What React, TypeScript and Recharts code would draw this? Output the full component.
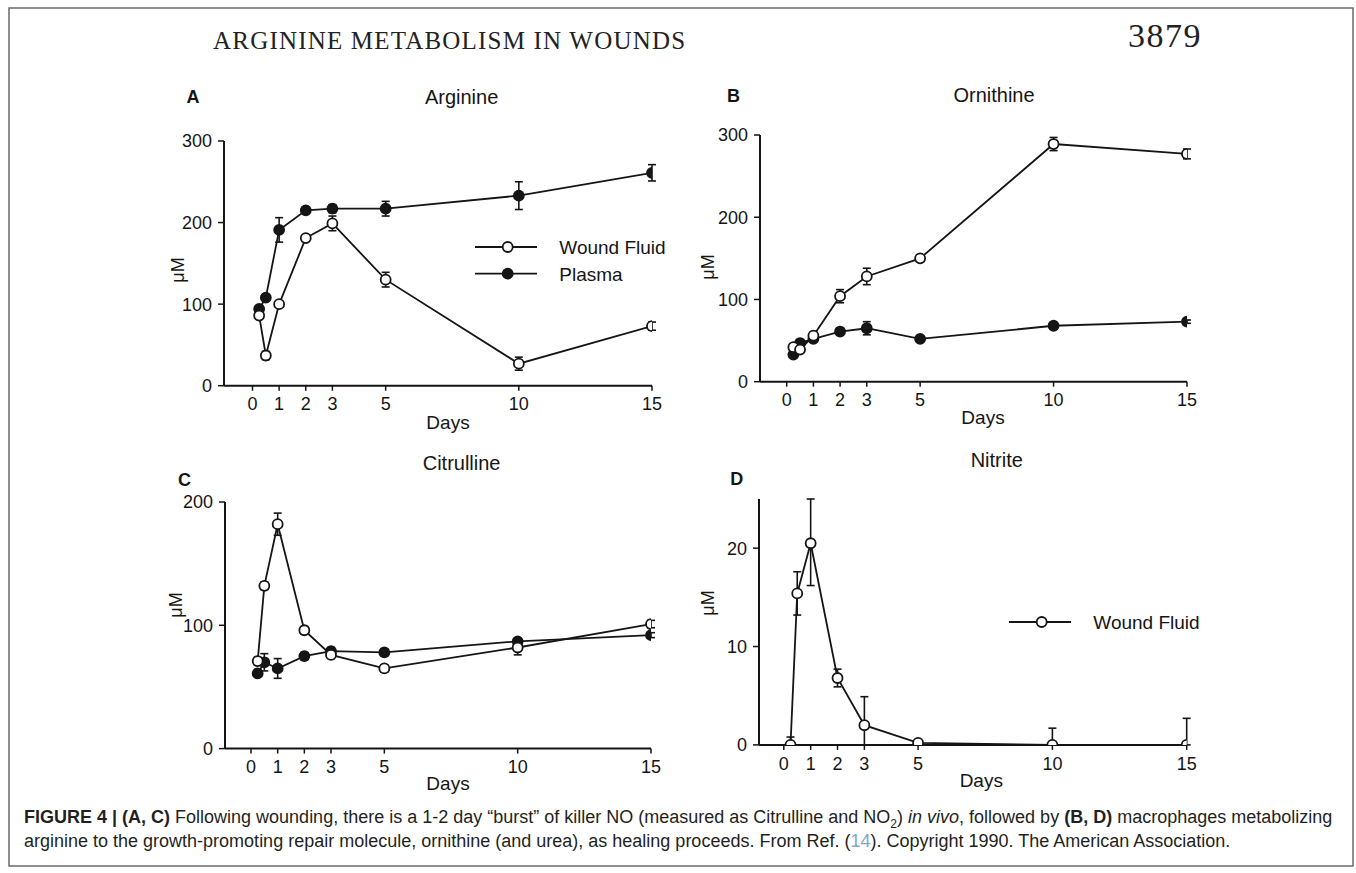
import React from "react";
import { LineChart, Line, XAxis, YAxis, ErrorBar, Legend } from "recharts";

// sampling days (shared by all four panels)
const days = [0.25, 0.5, 1, 2, 3, 5, 10, 15];
const dayTicks = [0, 1, 2, 3, 5, 10, 15];

// A: Arginine (µM)
const arginineWound = [86, 37, 100, 181, 199, 130, 27, 73];
const arginineWoundErr = [3, 5, 3, 4, 9, 9, 8, 5];
const argininePlasma = [94, 108, 191, 215, 217, 217, 233, 261];
const argininePlasmaErr = [3, 3, 15, 4, 5, 9, 17, 10];

// B: Ornithine (µM)
const ornithineWound = [42, 39, 56, 104, 128, 150, 289, 277];
const ornithineWoundErr = [3, 3, 3, 8, 10, 3, 8, 6];
const ornithinePlasma = [33, 47, 52, 61, 65, 52, 68, 73];
const ornithinePlasmaErr = [2, 2, 2, 3, 8, 2, 2, 2];

// C: Citrulline (µM)
const citrullineWound = [71, 132, 182, 96, 76, 65, 82, 101];
const citrullineWoundErr = [3, 3, 9, 3, 3, 3, 6, 3];
const citrullinePlasma = [61, 70, 65, 75, 79, 78, 87, 92];
const citrullinePlasmaErr = [2, 7, 8, 3, 3, 3, 2, 2];

// D: Nitrite (µM), errors as [minus, plus]
const nitriteWound = [0, 15.4, 20.5, 6.8, 2.0, 0.2, 0, 0];
const nitriteWoundErr = [[0, 0.8], [2.2, 2.2], [4.3, 4.5], [0.9, 0.9], [2.0, 2.9], [0.2, 0], [0, 1.7], [0, 2.7]];

const SANS = "'Liberation Sans', Arial, Helvetica, sans-serif";
const SERIF = "'Liberation Serif', 'Times New Roman', serif";
const INK = "#151515";

const YW = 60;
const MT = 12;
const MR = 24;
const XH = 40;

type Geo = { axX: number; x0: number; x15: number; top: number; bottom: number; yMax: number; yTicks: number[] };
type SeriesDef = { key: string; errKey: string; fill: string };
type LegendDef = { x: number; y: number; items: { label: string; fill: string }[] };

function makeRows(wound: number[], woundErr: any[], plasma?: number[], plasmaErr?: any[]) {
  return days.map((d, i) => ({
    day: d,
    wound: wound[i],
    woundErr: woundErr[i],
    plasma: plasma ? plasma[i] : undefined,
    plasmaErr: plasmaErr ? plasmaErr[i] : undefined,
  }));
}

const dot = (fill: string) => (p: any) => (
  <circle key={`${fill}-${p.index}`} cx={p.cx} cy={p.cy} r={5} fill={fill} stroke={INK} strokeWidth={1.8} />
);

function Panel({ geo, rows, series, legend }: { geo: Geo; rows: any[]; series: SeriesDef[]; legend?: LegendDef }) {
  const k = (geo.x15 - geo.x0) / 15;
  const xMin = (geo.axX - geo.x0) / k;
  const left = geo.axX - YW;
  const top = geo.top - MT;
  const width = YW + (geo.x15 - geo.axX) + MR;
  const height = MT + (geo.bottom - geo.top) + XH;
  const tickStyle = { fontFamily: SANS, fontSize: 18, fill: INK };

  return (
    <div style={{ position: "absolute", left, top }}>
      <LineChart width={width} height={height} data={rows} margin={{ top: MT, right: MR, left: 0, bottom: 0 }}>
        <XAxis
          type="number"
          dataKey="day"
          domain={[xMin, 15]}
          ticks={dayTicks}
          allowDataOverflow
          height={XH}
          interval={0}
          tick={tickStyle}
          tickSize={5}
          tickMargin={7}
          axisLine={{ stroke: INK, strokeWidth: 2 }}
          tickLine={{ stroke: INK, strokeWidth: 1.5 }}
        />
        <YAxis
          type="number"
          domain={[0, geo.yMax]}
          ticks={geo.yTicks}
          allowDataOverflow
          width={YW}
          interval={0}
          tick={tickStyle}
          tickSize={6}
          tickMargin={6}
          axisLine={{ stroke: INK, strokeWidth: 2 }}
          tickLine={{ stroke: INK, strokeWidth: 1.5 }}
        />
        {series.map((s) => (
          <Line
            key={s.key}
            type="linear"
            dataKey={s.key}
            stroke={INK}
            strokeWidth={1.8}
            dot={dot(s.fill)}
            activeDot={false}
            isAnimationActive={false}
          >
            <ErrorBar dataKey={s.errKey} direction="y" width={4} stroke={INK} strokeWidth={1.6} isAnimationActive={false} />
          </Line>
        ))}
        {legend && (
          <Legend
            layout="horizontal"
            verticalAlign="middle"
            align="center"
            wrapperStyle={{ left: legend.x - left, top: legend.y - 10 - top, width: 220, height: 30 * legend.items.length }}
            content={() => (
              <svg width={220} height={10 + 26.7 * legend.items.length}>
                {legend.items.map((it, i) => {
                  const cy = 10 + i * 26.7;
                  return (
                    <g key={it.label}>
                      <line x1={0} x2={62} y1={cy} y2={cy} stroke={INK} strokeWidth={1.8} />
                      <circle cx={32.7} cy={cy} r={5} fill={it.fill} stroke={INK} strokeWidth={1.8} />
                      <text x={84.3} y={cy + 6.8} fontFamily={SANS} fontSize={19} fill={INK}>
                        {it.label}
                      </text>
                    </g>
                  );
                })}
              </svg>
            )}
          />
        )}
      </LineChart>
    </div>
  );
}

const twoSeries: SeriesDef[] = [
  { key: "plasma", errKey: "plasmaErr", fill: INK },
  { key: "wound", errKey: "woundErr", fill: "#fff" },
];

function Label({ x, y, size = 19, weight = 400, children }: any) {
  return (
    <text x={x} y={y} textAnchor="middle" fontFamily={SANS} fontSize={size} fontWeight={weight} fill={INK}>
      {children}
    </text>
  );
}

function YLabel({ x, y }: { x: number; y: number }) {
  return (
    <text
      x={x}
      y={y}
      transform={`rotate(-90 ${x} ${y})`}
      textAnchor="middle"
      dominantBaseline="central"
      fontFamily={SANS}
      fontSize={18}
      fill={INK}
    >
      μM
    </text>
  );
}

export default function App() {
  return (
    <div style={{ position: "absolute", left: 0, top: 0, width: 1356, height: 873, background: "#fff", overflow: "hidden" }}>
      <svg width={1356} height={873} style={{ position: "absolute", left: 0, top: 0 }}>
        <rect x={9} y={8} width={1344} height={858} fill="none" stroke="#6a6a6a" strokeWidth={1.5} />
        <text x={213} y={49} fontFamily={SERIF} fontSize={25} letterSpacing={1.2} fill="#222">
          ARGININE METABOLISM IN WOUNDS
        </text>
        <text x={1128} y={47} fontFamily={SERIF} fontSize={34} letterSpacing={1.5} fill="#222">
          3879
        </text>

        <Label x={193} y={103.3} size={18} weight={700}>A</Label>
        <Label x={461.6} y={104} size={20}>Arginine</Label>
        <Label x={733.4} y={101.7} size={18} weight={700}>B</Label>
        <Label x={994} y={102} size={20}>Ornithine</Label>
        <Label x={184.4} y={486} size={18} weight={700}>C</Label>
        <Label x={461.6} y={470} size={20}>Citrulline</Label>
        <Label x={736.8} y={485} size={18} weight={700}>D</Label>
        <Label x={996.8} y={466.7} size={20}>Nitrite</Label>

        <YLabel x={177.5} y={270} />
        <YLabel x={707.5} y={267} />
        <YLabel x={175.8} y={605} />
        <YLabel x={707.5} y={603} />

        <Label x={448} y={428.5}>Days</Label>
        <Label x={983} y={424}>Days</Label>
        <Label x={448} y={790}>Days</Label>
        <Label x={981.3} y={787}>Days</Label>
      </svg>

      <Panel
        geo={{ axX: 224, x0: 252.5, x15: 652, top: 141, bottom: 385.7, yMax: 300, yTicks: [0, 100, 200, 300] }}
        rows={makeRows(arginineWound, arginineWoundErr, argininePlasma, argininePlasmaErr)}
        series={twoSeries}
        legend={{ x: 475.4, y: 247.3, items: [{ label: "Wound Fluid", fill: "#fff" }, { label: "Plasma", fill: INK }] }}
      />
      <Panel
        geo={{ axX: 759.9, x0: 786.6, x15: 1186.9, top: 135, bottom: 381.7, yMax: 300, yTicks: [0, 100, 200, 300] }}
        rows={makeRows(ornithineWound, ornithineWoundErr, ornithinePlasma, ornithinePlasmaErr)}
        series={twoSeries}
      />
      <Panel
        geo={{ axX: 225, x0: 251, x15: 651, top: 501.7, bottom: 748.3, yMax: 200, yTicks: [0, 100, 200] }}
        rows={makeRows(citrullineWound, citrullineWoundErr, citrullinePlasma, citrullinePlasmaErr)}
        series={twoSeries}
      />
      <Panel
        geo={{ axX: 758.5, x0: 783.3, x15: 1186.2, top: 499.1, bottom: 745, yMax: 25, yTicks: [0, 10, 20] }}
        rows={makeRows(nitriteWound, nitriteWoundErr)}
        series={[{ key: "wound", errKey: "woundErr", fill: "#fff" }]}
        legend={{ x: 1008.9, y: 621.7, items: [{ label: "Wound Fluid", fill: "#fff" }] }}
      />

      <div
        style={{
          position: "absolute",
          left: 24,
          top: 805,
          fontFamily: SANS,
          fontSize: 18,
          lineHeight: "24px",
          color: "#231f20",
          whiteSpace: "nowrap",
        }}
      >
        <b>FIGURE 4 | (A, C)</b> Following wounding, there is a 1-2 day “burst” of killer NO (measured as Citrulline and NO
        <sub style={{ fontSize: 12, lineHeight: 0 }}>2</sub>) <i>in vivo</i>, followed by <b>(B, D)</b> macrophages metabolizing
        <br />
        arginine to the growth-promoting repair molecule, ornithine (and urea), as healing proceeds. From Ref. (
        <span style={{ color: "#7fa7c9" }}>14</span>). Copyright 1990. The American Association.
      </div>
    </div>
  );
}
